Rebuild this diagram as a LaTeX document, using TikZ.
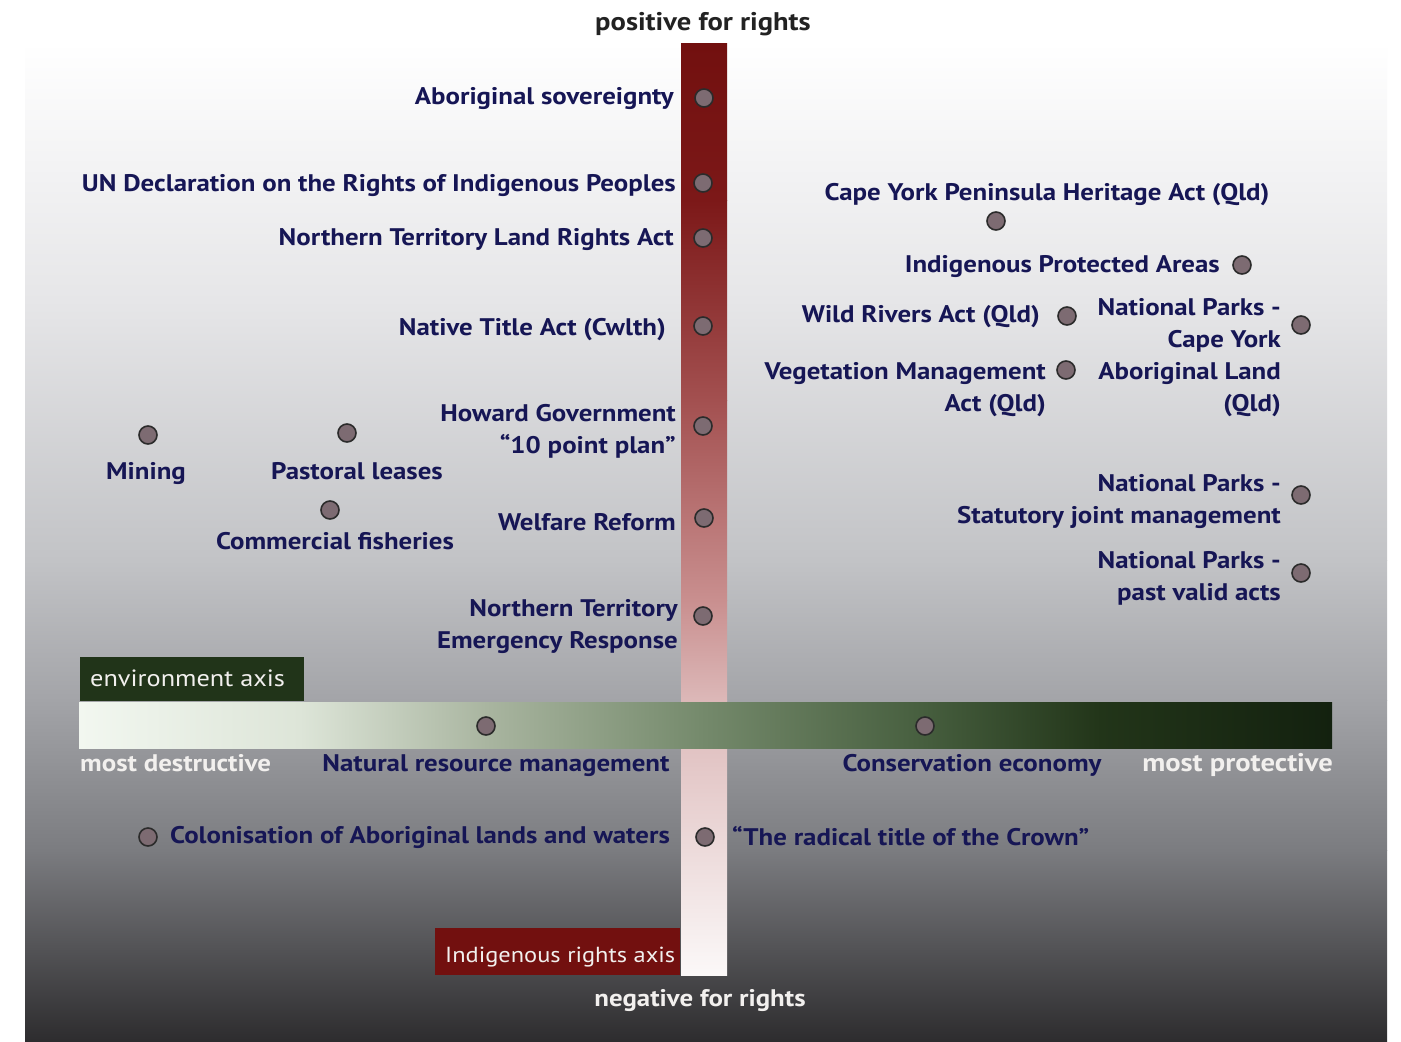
\documentclass[tikz,border=0pt]{standalone}
\usepackage{fontspec}
\setmainfont{PT Sans}[FakeStretch=1.12]
\definecolor{navy}{HTML}{161655}
\definecolor{dotfill}{HTML}{7D6B72}
\definecolor{dotline}{HTML}{2B2B2B}
\definecolor{envgreen}{HTML}{213419}
\definecolor{rightsred}{HTML}{72100F}
\definecolor{titlegray}{HTML}{222222}
\definecolor{axiswhite}{HTML}{F2F0EE}
\newcommand\labfont{\bfseries\fontsize{24}{32}\selectfont}
\newcommand\boxfont{\fontsize{23.5}{30}\selectfont}
\begin{document}
\begin{tikzpicture}[x=1pt,y=-1pt,
  lab/.style={font=\labfont, text=navy, inner sep=0pt},
  wlab/.style={font=\labfont, text=axiswhite, inner sep=0pt},
  dot/.style={circle, fill=dotfill, draw=dotline, line width=1.6pt, minimum size=18pt, inner sep=0pt},
  axbox/.style={inner sep=0pt, anchor=north west},
]
\useasboundingbox (0,0) rectangle (1401,1042);
% background
\fill[white] (0,0) rectangle (1401,1042);
\fill[top color=white, bottom color={rgb,255:red,230;green,230;blue,232}] (25,42) rectangle (1387,300.5);
\fill[top color={rgb,255:red,230;green,230;blue,232}, bottom color={rgb,255:red,194;green,195;blue,198}] (25,300) rectangle (1387,560.5);
\fill[top color={rgb,255:red,194;green,195;blue,198}, bottom color={rgb,255:red,163;green,164;blue,168}] (25,560) rectangle (1387,700.5);
\fill[top color={rgb,255:red,163;green,164;blue,168}, bottom color={rgb,255:red,123;green,124;blue,128}] (25,700) rectangle (1387,850.5);
\fill[top color={rgb,255:red,123;green,124;blue,128}, bottom color={rgb,255:red,45;green,44;blue,46}] (25,850) rectangle (1387,1042);
% vertical rights axis
\fill[top color={rgb,255:red,114;green,16;blue,15}, bottom color={rgb,255:red,124;green,24;blue,24}] (681,43) rectangle (727,200.5);
\fill[top color={rgb,255:red,124;green,24;blue,24}, bottom color={rgb,255:red,163;green,80;blue,80}] (681,200) rectangle (727,400.5);
\fill[top color={rgb,255:red,163;green,80;blue,80}, bottom color={rgb,255:red,201;green,143;blue,143}] (681,400) rectangle (727,600.5);
\fill[top color={rgb,255:red,201;green,143;blue,143}, bottom color={rgb,255:red,220;green,184;blue,184}] (681,600) rectangle (727,700.5);
\fill[top color={rgb,255:red,220;green,184;blue,184}, bottom color={rgb,255:red,251;green,248;blue,248}] (681,700) rectangle (727,975);
% horizontal environment axis
\fill[left color={rgb,255:red,242;green,247;blue,240}, right color={rgb,255:red,221;green,229;blue,216}] (79,702) rectangle (300.5,748);
\fill[left color={rgb,255:red,221;green,229;blue,216}, right color={rgb,255:red,169;green,181;blue,160}] (300,702) rectangle (486.5,748);
\fill[left color={rgb,255:red,169;green,181;blue,160}, right color={rgb,255:red,117;green,138;blue,108}] (486,702) rectangle (700.5,748);
\fill[left color={rgb,255:red,117;green,138;blue,108}, right color={rgb,255:red,70;green,94;blue,62}] (700,702) rectangle (925.5,748);
\fill[left color={rgb,255:red,70;green,94;blue,62}, right color={rgb,255:red,34;green,53;blue,25}] (925,702) rectangle (1100.5,748);
\fill[left color={rgb,255:red,34;green,53;blue,25}, right color={rgb,255:red,19;green,33;blue,15}] (1100,702) rectangle (1332,748);
% axis name boxes
\node[axbox, fill=envgreen, minimum width=224pt, minimum height=44pt] (envbox) at (80,657) {};
\node[anchor=base west, inner sep=0pt, font=\boxfont, text=axiswhite] (envtext) at (90,686) {environment axis};
\node[axbox, fill=rightsred, minimum width=245pt, minimum height=47pt] (rightsbox) at (435,928) {};
\node[anchor=base west, inner sep=0pt, font=\fontsize{21.8}{28}\selectfont, text=axiswhite] (rightstext) at (445,962) {Indigenous rights axis};
% axis end labels
\node[anchor=base, inner sep=0pt, font=\bfseries\fontsize{25.5}{32}\selectfont, text=titlegray] (pos) at (703,30) {positive for rights};
\node[anchor=base, wlab] (neg) at (700,1006) {negative for rights};
\node[anchor=base west, wlab] (destr) at (80,771) {most destructive};
\node[anchor=base east, wlab, font=\bfseries\fontsize{25.5}{32}\selectfont] (prot) at (1333,771) {most protective};
% left of rights axis
\node[dot] (d1) at (704,98) {};
\node[lab, anchor=base east] (l1) at (674,104) {Aboriginal sovereignty};
\node[dot] (d2) at (703,183) {};
\node[lab, anchor=base east] (l2) at (676,191) {UN Declaration on the Rights of Indigenous Peoples};
\node[dot] (d3) at (703,238) {};
\node[lab, anchor=base east] (l3) at (674,245) {Northern Territory Land Rights Act};
\node[dot] (d4) at (703,326) {};
\node[lab, anchor=base east] (l4) at (666,335) {Native Title Act (Cwlth)};
\node[dot] (d5) at (703,426) {};
\node[lab, anchor=base east, align=right] (l5) at (676,453) {Howard Government\\``10 point plan''};
\node[dot] (d6) at (704,518) {};
\node[lab, anchor=base east] (l6) at (676,530) {Welfare Reform};
\node[dot] (d7) at (703,616) {};
\node[lab, anchor=base east, align=right] (l7) at (678,648) {Northern Territory\\Emergency Response};
% far left
\node[dot] (d8) at (148,435) {};
\node[lab, anchor=base] (l8) at (146,479) {Mining};
\node[dot] (d9) at (347,433) {};
\node[lab, anchor=base] (l9) at (357,479) {Pastoral leases};
\node[dot] (d10) at (330,510) {};
\node[lab, anchor=base] (l10) at (335,549) {Commercial fisheries};
% right side
\node[lab, anchor=base] (l11) at (1047,200) {Cape York Peninsula Heritage Act (Qld)};
\node[dot] (d11) at (996,221) {};
\node[lab, anchor=base east] (l12) at (1220,272) {Indigenous Protected Areas};
\node[dot] (d12) at (1242,265) {};
\node[lab, anchor=base east] (l13) at (1040,322) {Wild Rivers Act (Qld)};
\node[dot] (d13) at (1067,316) {};
\node[lab, anchor=base east, align=right] (l14) at (1281,411) {National Parks -\\Cape York\\Aboriginal Land\\(Qld)};
\node[dot] (d14) at (1301,325) {};
\node[lab, anchor=base east, align=right] (l15) at (1046,411) {Vegetation Management\\Act (Qld)};
\node[dot] (d15) at (1066,370) {};
\node[lab, anchor=base east, align=right] (l16) at (1281,523) {National Parks -\\Statutory joint management};
\node[dot] (d16) at (1301,495) {};
\node[lab, anchor=base east, align=right] (l17) at (1281,600) {National Parks -\\past valid acts};
\node[dot] (d17) at (1301,573) {};
% on environment axis
\node[dot] (d18) at (486,726) {};
\node[lab, anchor=base] (l18) at (496,771) {Natural resource management};
\node[dot] (d19) at (925,726) {};
\node[lab, anchor=base] (l19) at (972,771) {Conservation economy};
% below
\node[dot] (d20) at (148,837) {};
\node[lab, anchor=base west] (l20) at (170,843) {Colonisation of Aboriginal lands and waters};
\node[dot] (d21) at (705,837) {};
\node[lab, anchor=base west] (l21) at (732,845) {``The radical title of the Crown''};
\end{tikzpicture}
\end{document}
